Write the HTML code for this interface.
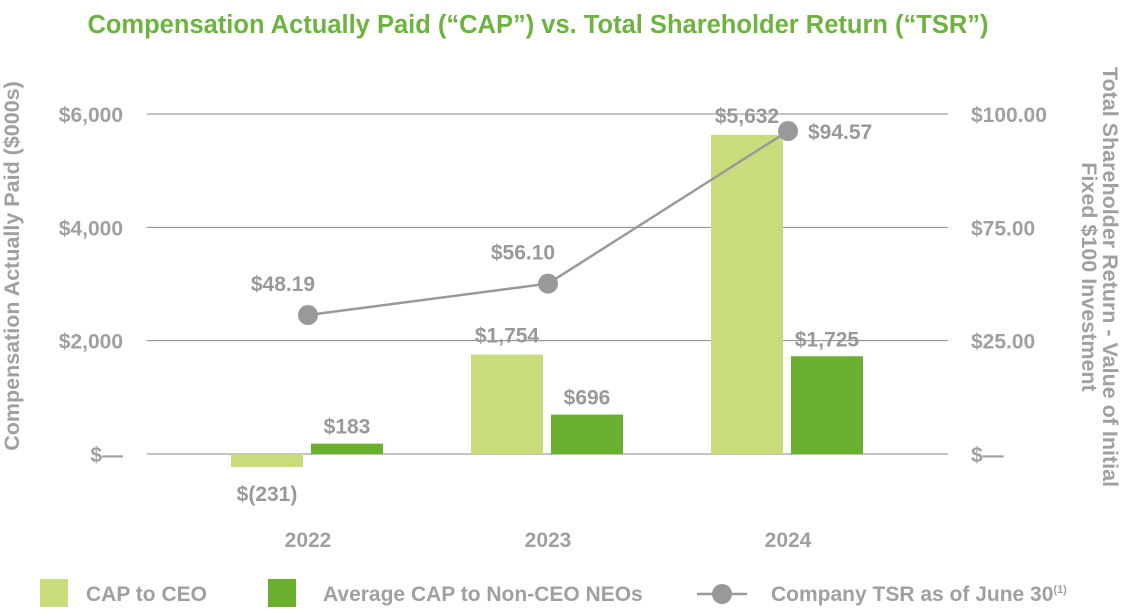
<!DOCTYPE html>
<html><head><meta charset="utf-8"><style>
body{margin:0;background:#fff;width:1128px;height:610px;overflow:hidden}
text{font-family:"Liberation Sans",Arial,sans-serif;font-weight:bold}
</style></head><body>
<svg id="c" width="1128" height="610" xmlns="http://www.w3.org/2000/svg">
<text x="538" y="33" text-anchor="middle" font-size="25.5" fill="#6db33f">Compensation Actually Paid (“CAP”) vs. Total Shareholder Return (“TSR”)</text>
<g id="grid"></g><g id="bars"></g><g id="line"></g>
<text transform="translate(19,266) rotate(-90)" text-anchor="middle" font-size="21.5" fill="#a0a0a0">Compensation Actually Paid ($000s)</text>
<text transform="translate(1103,277) rotate(90)" text-anchor="middle" font-size="21.5" fill="#a0a0a0">Total Shareholder Return - Value of Initial</text>
<text transform="translate(1082,277) rotate(90)" text-anchor="middle" font-size="21.5" fill="#a0a0a0">Fixed $100 Investment</text>
<g>
<rect x="40" y="579" width="28" height="28" fill="#c8dc7c"/>
<text x="86" y="601" font-size="21" fill="#a0a0a0">CAP to CEO</text>
<rect x="268" y="579" width="28" height="28" fill="#6aaf2d"/>
<text x="323" y="601" font-size="21" fill="#a0a0a0">Average CAP to Non-CEO NEOs</text>
<line x1="697" y1="594" x2="747" y2="594" stroke="#999" stroke-width="2.5"/>
<circle cx="722" cy="594" r="10" fill="#999"/>
<text x="771" y="601" font-size="21" fill="#a0a0a0">Company TSR as of June 30<tspan font-size="11" dy="-8">(1)</tspan></text>
</g>
</svg>
<script>
const years=["2022","2023","2024"];
const ceo=[-231,1754,5632];
const neo=[183,696,1725];
const tsr=[48.19,56.10,94.57];
const ceoLabels=["$(231)","$1,754","$5,632"];
const neoLabels=["$183","$696","$1,725"];
const tsrLabels=["$48.19","$56.10","$94.57"];
const leftTicks=[0,2000,4000,6000];
const leftTickLabels=["$—","$2,000","$4,000","$6,000"];
const rightTickLabels=["$—","$25.00","$75.00","$100.00"];
const NS="http://www.w3.org/2000/svg";
const y=v=>454-v*(340/6000);
const yT=v=>109.5+(100-v)*3.967;
const xc=i=>308+i*240;
function mk(p,t,a){const e=document.createElementNS(NS,t);for(const k in a)e.setAttribute(k,a[k]);document.getElementById(p).appendChild(e);return e;}
leftTicks.forEach((t,i)=>{
 let l=mk('grid','line',{x1:147,x2:948,y1:y(t),y2:y(t),stroke:'#888','stroke-width':1});
 
 
 let a=mk('grid','text',{x:123,y:y(t)+8,'text-anchor':'end','font-size':21,fill:'#a0a0a0'});a.textContent=leftTickLabels[i];
 
 
 let b=mk('grid','text',{x:971,y:y(t)+8,'font-size':21,fill:'#a0a0a0'});b.textContent=rightTickLabels[i];
 
 
});
years.forEach((yr,i)=>{
 let c=mk('grid','text',{x:xc(i),y:547,'text-anchor':'middle','font-size':21,fill:'#a0a0a0'});
 c.textContent=yr;
 
 
 const x0=xc(i)-77;
 let r=mk('bars','rect',{x:x0,y:Math.min(y(ceo[i]),y(0)),width:72,height:Math.abs(y(ceo[i])-y(0)),fill:'#c8dc7c'});
 
 
 let t=mk('bars','text',{x:x0+36,y:ceo[i]<0?y(ceo[i])+34:y(ceo[i])-12,'text-anchor':'middle','font-size':21,fill:'#999'});t.textContent=ceoLabels[i];
 
 
 let r2=mk('bars','rect',{x:x0+80,y:y(neo[i]),width:72,height:y(0)-y(neo[i]),fill:'#6aaf2d'});
 
 
 let t2=mk('bars','text',{x:x0+116,y:y(neo[i])-10,'text-anchor':'middle','font-size':21,fill:'#999'});t2.textContent=neoLabels[i];
 
 
});
let pl=mk('line','polyline',{points:tsr.map((v,i)=>xc(i)+','+yT(v)).join(' '),fill:'none',stroke:'#999','stroke-width':2.5});


tsr.forEach((v,i)=>{
 let c=mk('line','circle',{cx:xc(i),cy:yT(v),r:10,fill:'#999'});
 
 
 let t=i==2?mk('line','text',{x:xc(i)+20,y:yT(v)+8,'font-size':21,fill:'#999'}):mk('line','text',{x:xc(i)-25,y:yT(v)-24,'text-anchor':'middle','font-size':21,fill:'#999'});
 t.textContent=tsrLabels[i];
 
 
});
</script>
</body></html>
